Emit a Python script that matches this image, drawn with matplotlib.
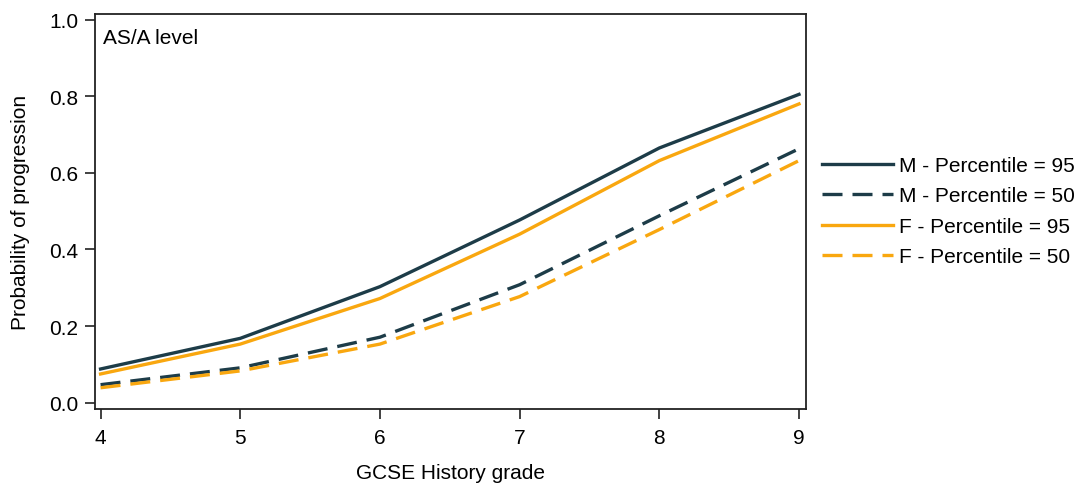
import matplotlib
matplotlib.use("Agg")
import matplotlib.pyplot as plt

plt.rcParams['font.family'] = ['Liberation Sans', 'DejaVu Sans']

grades = [4, 5, 6, 7, 8, 9]
m_p95 = [0.088, 0.168, 0.303, 0.477, 0.665, 0.805]
m_p50 = [0.047, 0.091, 0.171, 0.308, 0.488, 0.663]
f_p95 = [0.075, 0.153, 0.272, 0.440, 0.632, 0.780]
f_p50 = [0.039, 0.083, 0.153, 0.277, 0.452, 0.632]

dark = "#1d3c48"
orange = "#f9a70f"
dash = (6, 3)
fs = 15

fig = plt.figure(figsize=(10.83, 4.85), dpi=100)
ax = fig.add_axes([0.0877, 0.155, 0.6565, 0.815])

ax.plot(grades, m_p95, color=dark, lw=2.4, label="M - Percentile = 95")
ax.plot(grades, m_p50, color=dark, lw=2.4, dashes=dash, label="M - Percentile = 50")
ax.plot(grades, f_p95, color=orange, lw=2.4, label="F - Percentile = 95")
ax.plot(grades, f_p50, color=orange, lw=2.4, dashes=dash, label="F - Percentile = 50")

ax.set_xlim(3.96, 9.05)
ax.set_ylim(-0.016, 1.016)
ax.set_xticks(grades)
ax.set_yticks([0.0, 0.2, 0.4, 0.6, 0.8, 1.0])
ax.set_yticklabels(["0.0", "0.2", "0.4", "0.6", "0.8", "1.0"])
ax.tick_params(labelsize=fs, length=7, width=1.3, color="#333333")
ax.tick_params(axis="y", pad=5)
ax.tick_params(axis="x", pad=7)
for s in ax.spines.values():
    s.set_linewidth(1.3)
    s.set_color("#222222")

ax.set_xlabel("GCSE History grade", fontsize=fs, labelpad=11)
ax.set_ylabel("Probability of progression", fontsize=fs, labelpad=14)
ax.text(0.011, 0.963, "AS/A level", transform=ax.transAxes, fontsize=fs,
        va="top", ha="left")

ax.legend(loc="center left", bbox_to_anchor=(0.996, 0.5), frameon=False,
          fontsize=fs, handlelength=3.4, handletextpad=0.3,
          labelspacing=0.55)

fig.savefig("out.png", dpi=100)
